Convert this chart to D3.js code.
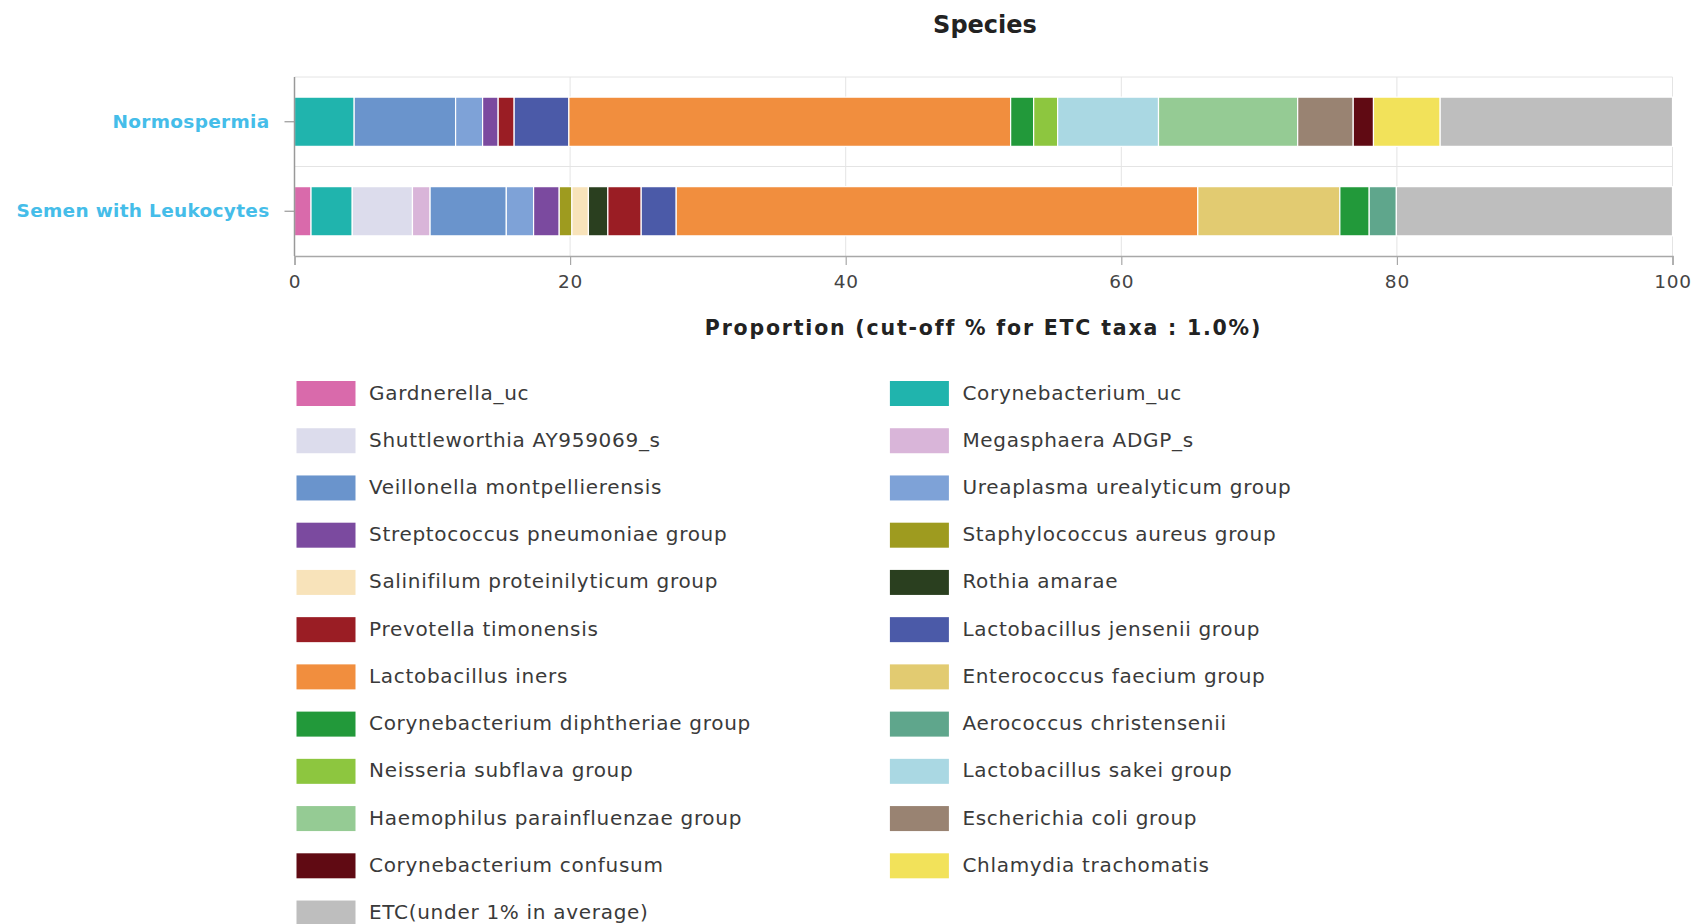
<!DOCTYPE html>
<html>
<head>
<meta charset="utf-8">
<script src="https://cdn.jsdelivr.net/npm/d3@7"></script>
<style>
  html, body { margin: 0; padding: 0; background: #fff; }
  svg { display: block; font-family: "DejaVu Sans", Verdana, sans-serif; }
</style>
</head>
<body>
<svg id="chart" width="1697" height="924"></svg>
<script>
// ---- Data ----
const categories = ["Normospermia", "Semen with Leukocytes"];
const taxa = [
  "Gardnerella_uc",
  "Corynebacterium_uc",
  "Shuttleworthia AY959069_s",
  "Megasphaera ADGP_s",
  "Veillonella montpellierensis",
  "Ureaplasma urealyticum group",
  "Streptococcus pneumoniae group",
  "Staphylococcus aureus group",
  "Salinifilum proteinilyticum group",
  "Rothia amarae",
  "Prevotella timonensis",
  "Lactobacillus jensenii group",
  "Lactobacillus iners",
  "Enterococcus faecium group",
  "Corynebacterium diphtheriae group",
  "Aerococcus christensenii",
  "Neisseria subflava group",
  "Lactobacillus sakei group",
  "Haemophilus parainfluenzae group",
  "Escherichia coli group",
  "Corynebacterium confusum",
  "Chlamydia trachomatis",
  "ETC(under 1% in average)"
];
const taxaColors = [
  "#d96aab", "#20b4ad", "#dcdcec", "#d9b5d9", "#6a94cc", "#7ea2d7",
  "#7b4a9f", "#9e9b1f", "#f8e3ba", "#2a3f1f", "#9a1d24", "#4b5aa8",
  "#f18e3e", "#e2cb71", "#22993a", "#5fa68c", "#8dc63f", "#aad8e3",
  "#95cb94", "#998372", "#600a13", "#f2e25a", "#bebebe"
];
const normospermia = [
  0, 4.33, 0, 0, 7.36, 1.96, 1.13, 0, 0, 0, 1.16, 3.97,
  32.06, 0, 1.67, 0, 1.74, 7.32, 10.10, 4.03, 1.47, 4.84, 16.86
];
const semenLeukocytes = [
  1.20, 2.99, 4.37, 1.28, 5.53, 1.98, 1.86, 0.92, 1.20, 1.41, 2.42, 2.54,
  37.85, 10.31, 2.13, 1.97, 0, 0, 0, 0, 0, 0, 20.04
];
const xTicks = [0, 20, 40, 60, 80, 100];
const chartTitle = "Species";
const xTitle = "Proportion (cut-off % for ETC taxa : 1.0%)";

// ---- Table for d3.stack ----
const seriesValues = [normospermia, semenLeukocytes];
const table = categories.map((c, ci) => {
  const row = { category: c };
  taxa.forEach((t, ti) => { row[t] = seriesValues[ci][ti]; });
  return row;
});
const stacked = d3.stack().keys(taxa)(table);

// ---- Layout ----
const svg = d3.select("#chart");
const plot = { left: 294.5, right: 1672.5, top: 77, bottom: 256 };

const x = d3.scaleLinear().domain([0, 100]).range([plot.left, plot.right]);
const y = d3.scaleBand().domain(categories).range([plot.top, plot.bottom])
  .paddingInner(0.45).paddingOuter(0.225);
const color = d3.scaleOrdinal().domain(taxa).range(taxaColors);

// Title
svg.append("text")
  .attr("x", 985).attr("y", 33)
  .attr("text-anchor", "middle")
  .attr("font-size", 24).attr("font-weight", "bold")
  .attr("fill", "#222")
  .text(chartTitle);

// Gridlines
const grid = svg.append("g");
grid.selectAll("line.v").data(xTicks.slice(1)).join("line")
  .attr("x1", d => x(d)).attr("x2", d => x(d))
  .attr("y1", plot.top).attr("y2", plot.bottom)
  .attr("stroke", "#e4e4e4").attr("stroke-width", 1);
const bandEdges = categories.map(c => y(c) - y.step() * y.paddingInner() / 2);
bandEdges[0] = plot.top;
grid.selectAll("line.h").data(bandEdges).join("line")
  .attr("x1", plot.left).attr("x2", plot.right)
  .attr("y1", d => d).attr("y2", d => d)
  .attr("stroke", "#e4e4e4").attr("stroke-width", 1);

// Bars
const layer = svg.append("g").selectAll("g").data(stacked).join("g")
  .attr("fill", d => color(d.key));
layer.selectAll("rect")
  .data(d => d.filter(s => s[1] - s[0] > 0).map(s => ({ s, key: d.key })))
  .join("rect")
  .attr("x", d => x(d.s[0]))
  .attr("width", d => x(d.s[1]) - x(d.s[0]))
  .attr("y", d => y(d.s.data.category))
  .attr("height", y.bandwidth())
  .attr("stroke", "#fff").attr("stroke-width", 1.2);

// X axis
const xAxis = d3.axisBottom(x).tickValues(xTicks).tickSize(9).tickPadding(10)
  .tickFormat(d3.format("d"));
const gx = svg.append("g").attr("transform", `translate(0,${plot.bottom})`).call(xAxis);
gx.select(".domain").attr("stroke", "#a8a8a8").attr("stroke-width", 1.5);
gx.selectAll(".tick line").attr("stroke", "#a8a8a8").attr("stroke-width", 1.2);
gx.selectAll(".tick text")
  .attr("font-family", "DejaVu Sans, sans-serif")
  .attr("font-size", 18.5).attr("letter-spacing", "0.8px")
  .attr("fill", "#444");

// Y axis
const yAxis = d3.axisLeft(y).tickSize(10).tickPadding(15);
const gy = svg.append("g").attr("transform", `translate(${plot.left},0)`).call(yAxis);
gy.select(".domain").attr("stroke", "#999").attr("stroke-width", 1.5)
  .attr("d", `M-0,${plot.top}V${plot.bottom}`);
gy.selectAll(".tick line").attr("stroke", "#999").attr("stroke-width", 1.2);
gy.selectAll(".tick text")
  .attr("font-family", "DejaVu Sans, sans-serif")
  .attr("font-size", 18.5).attr("font-weight", "bold")
  .attr("letter-spacing", "0.3px")
  .attr("fill", "#45bde9");

// X title
svg.append("text")
  .attr("x", (plot.left + plot.right) / 2).attr("y", 335)
  .attr("text-anchor", "middle")
  .attr("font-size", 20.5).attr("font-weight", "bold")
  .attr("letter-spacing", "1.8px")
  .attr("fill", "#222")
  .text(xTitle);

// Legend
const legend = svg.append("g");
const legX0 = 296.5, legColW = 593.4, legY0 = 381, legRowH = 47.23;
const item = legend.selectAll("g").data(taxa).join("g")
  .attr("transform", (d, i) => `translate(${legX0 + (i % 2) * legColW},${legY0 + Math.floor(i / 2) * legRowH})`);
item.append("rect")
  .attr("width", 59).attr("height", 25)
  .attr("fill", d => color(d));
item.append("text")
  .attr("x", 72.5).attr("y", 18.5)
  .attr("font-size", 20).attr("letter-spacing", "0.7px")
  .attr("fill", "#3a3a3a")
  .text(d => d);
</script>
</body>
</html>
